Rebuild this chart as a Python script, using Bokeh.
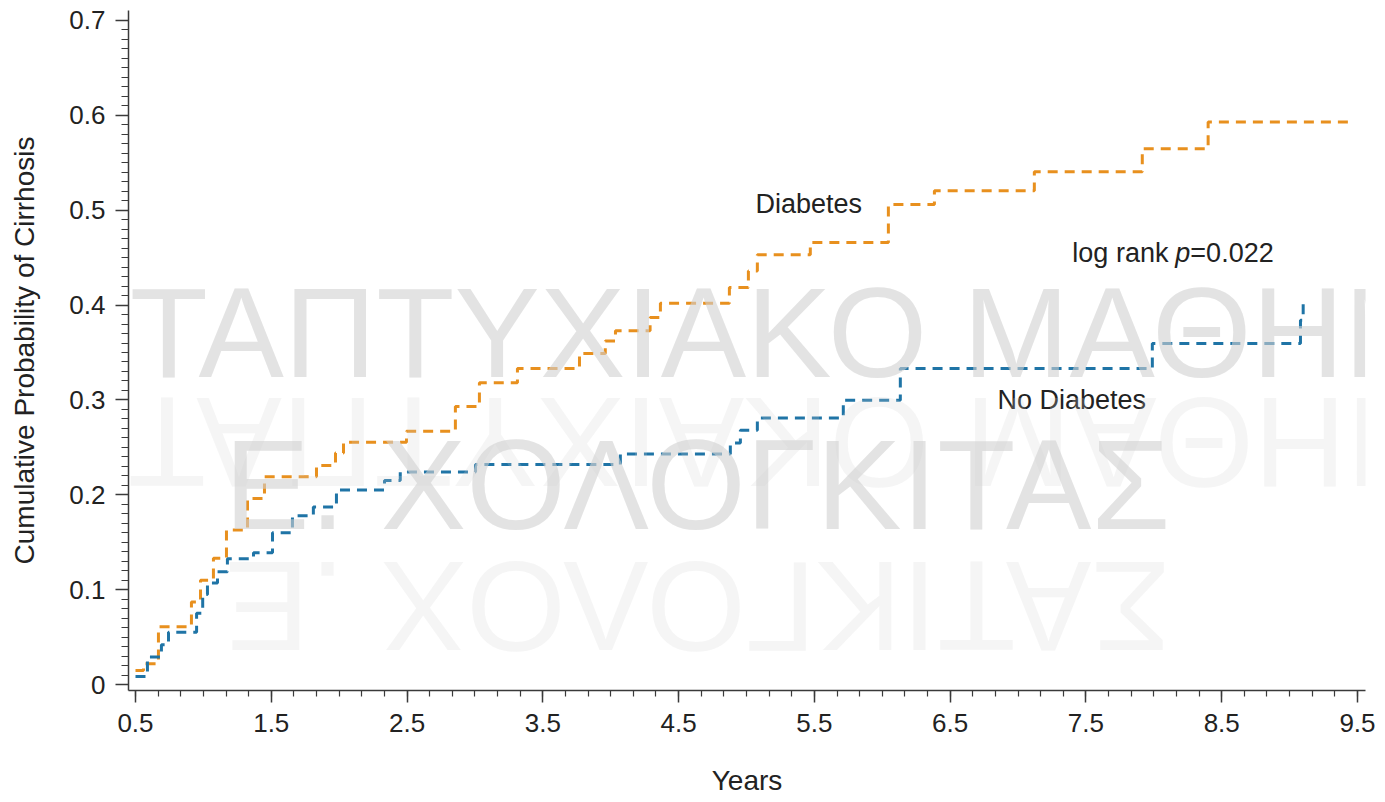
import math
from bokeh.plotting import figure
from bokeh.models import FixedTicker, Label, Range1d, CustomJSTickFormatter
from bokeh.embed import file_html
from bokeh.resources import INLINE

# ---------------- data ----------------
# Diabetes group: step times (years) and cumulative probability after each step
years_diab = [0.5, 0.559, 0.669, 0.912, 0.979, 1.074, 1.17, 1.325, 1.45, 1.833,
              1.973, 2.032, 2.496, 2.856, 3.033, 3.313, 3.77, 3.96, 4.035, 4.29,
              4.366, 4.874, 5.014, 5.08, 5.47, 6.045, 6.384, 7.12, 7.915, 8.40,
              9.46]
prob_diab = [0.0147, 0.022, 0.061, 0.087, 0.11, 0.133, 0.163, 0.196, 0.219, 0.231,
             0.244, 0.2555, 0.267, 0.293, 0.318, 0.333, 0.349, 0.362, 0.373, 0.387,
             0.402, 0.4185, 0.436, 0.453, 0.466, 0.506, 0.5205, 0.5405, 0.5647, 0.593,
             0.593]

# No diabetes group
years_nodiab = [0.5, 0.588, 0.691, 0.743, 0.95, 0.995, 1.03, 1.104, 1.177, 1.369,
                1.509, 1.656, 1.81, 1.98, 2.334, 2.45, 3.004, 4.071, 4.881, 4.955,
                5.08, 5.713, 6.133, 7.989, 9.08, 9.10, 9.10]
prob_nodiab = [0.0084, 0.029, 0.042, 0.055, 0.075, 0.095, 0.107, 0.119, 0.1325, 0.139,
               0.16, 0.178, 0.187, 0.205, 0.215, 0.224, 0.232, 0.243, 0.2545, 0.268,
               0.281, 0.2997, 0.333, 0.3596, 0.384, 0.405, 0.405]

x_tick_values = [0.5, 1.5, 2.5, 3.5, 4.5, 5.5, 6.5, 7.5, 8.5, 9.5]
y_tick_values = [0.0, 0.1, 0.2, 0.3, 0.4, 0.5, 0.6, 0.7]

series_labels = ["Diabetes", "No Diabetes"]
stat_text = ["log rank ", "p", "=0.022"]
watermark_lines = ["ΜΕΤΑΠΤΥΧΙΑΚΟ ΜΑΘΗΜΑ", "Ε. ΧΟΛΟΓΚΙΤΑΣ"]

# ---------------- styling ----------------
FONT = "Liberation Sans"
ORANGE = "#E8901E"
BLUE = "#1F74A6"
AXIS = "#3a3a3a"
TEXT = "#222222"
WM_COLOR = "#d0d0d0"

p = figure(width=1385, height=802, output_backend="svg", toolbar_location=None,
           x_range=Range1d(0.4485, 9.559), y_range=Range1d(-0.0063, 0.7105),
           min_border_left=128, min_border_right=20, min_border_top=10,
           min_border_bottom=112)
p.outline_line_color = None
p.grid.visible = False
p.background_fill_color = "white"
p.border_fill_color = "white"

p.step(years_diab, prob_diab, mode="after", line_color=ORANGE, line_width=3,
       line_dash="10 7")
p.step(years_nodiab, prob_nodiab, mode="after", line_color=BLUE, line_width=3,
       line_dash="10 7")

# ticks
x_minor = [0.5 + i / 6 for i in range(55)]
y_minor = [i / 100 for i in range(71)]
p.xaxis[0].ticker = FixedTicker(ticks=x_tick_values, minor_ticks=x_minor)
p.yaxis[0].ticker = FixedTicker(ticks=y_tick_values, minor_ticks=y_minor)
p.yaxis[0].formatter = CustomJSTickFormatter(
    code="return Math.abs(tick) < 1e-9 ? '0' : tick.toFixed(1);")
p.xaxis[0].formatter = CustomJSTickFormatter(code="return tick.toFixed(1);")

for ax in (p.xaxis[0], p.yaxis[0]):
    ax.axis_line_color = AXIS
    ax.axis_line_width = 1.5
    ax.major_tick_line_color = AXIS
    ax.major_tick_line_width = 1.5
    ax.minor_tick_line_color = AXIS
    ax.minor_tick_line_width = 1.2
    ax.major_tick_in = 0
    ax.minor_tick_in = 0
    ax.major_label_text_font = FONT
    ax.major_label_text_font_size = "26px"
    ax.major_label_text_color = TEXT
    ax.axis_label_text_font = FONT
    ax.axis_label_text_font_size = "28px"
    ax.axis_label_text_font_style = "normal"
    ax.axis_label_text_color = TEXT

p.yaxis[0].major_tick_out = 13
p.yaxis[0].minor_tick_out = 7
p.yaxis[0].major_label_standoff = 10
p.yaxis[0].axis_label = "Cumulative Probability of Cirrhosis"
p.yaxis[0].axis_label_standoff = 26

p.xaxis[0].major_tick_out = 12
p.xaxis[0].minor_tick_out = 6
p.xaxis[0].major_label_standoff = 11
p.xaxis[0].axis_label = "Years"
p.xaxis[0].axis_label_standoff = 30

# annotations
def add_text(x, y, text, x_offset=0, style="normal"):
    p.add_layout(Label(x=x, y=y, x_offset=x_offset, text=text, text_font=FONT,
                       text_font_size="27px", text_color=TEXT,
                       text_font_style=style, text_align="left",
                       text_baseline="middle"))

add_text(5.066, 0.507, series_labels[0])
add_text(6.848, 0.3004, series_labels[1])
add_text(7.40, 0.4554, stat_text[0])
add_text(7.40, 0.4554, stat_text[1], x_offset=103, style="italic")
add_text(7.40, 0.4554, stat_text[2], x_offset=118)

# watermark (drawn on top, with faint mirrored reflection)
def add_wm(x, y, text, alpha, angle=0.0):
    p.add_layout(Label(x=x, y=y, text=text, angle=angle, text_font=FONT,
                       text_font_size="128px", text_color=WM_COLOR,
                       text_alpha=alpha, text_align="center",
                       text_baseline="alphabetic", level="overlay"))

add_wm(4.93, 0.3711, watermark_lines[0], 0.6)
add_wm(4.93, 0.2551, watermark_lines[0][::-1], 0.22, angle=math.pi)
add_wm(4.638, 0.2108, watermark_lines[1], 0.6)
add_wm(4.638, 0.0822, watermark_lines[1][::-1], 0.22, angle=math.pi)

open("out.html", "w").write(file_html(p, INLINE))
